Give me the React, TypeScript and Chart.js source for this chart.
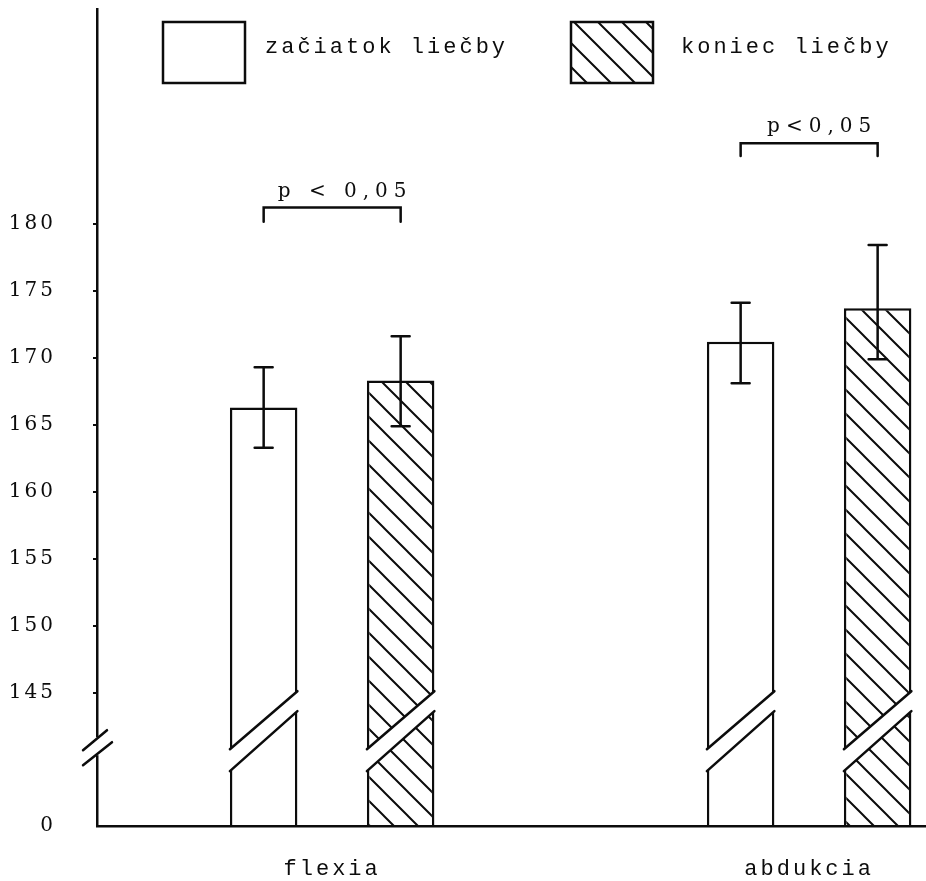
import React, { useEffect, useRef } from 'react';
import { Chart, registerables } from 'chart.js';

Chart.register(...registerables);

// ---------- data ----------
const groups = ['flexia', 'abdukcia'];
const groupPositions = [1, 2];
const seriesNames = ['začiatok liečby', 'koniec liečby'];
const startMeans = [166.3, 171.2];
const endMeans = [168.3, 173.7];
const startErrLow = [163.3, 168.1];
const startErrHigh = [169.3, 174.1];
const endErrLow = [164.9, 169.9];
const endErrHigh = [171.6, 178.4];
const yTickValues = [145, 150, 155, 160, 165, 170, 175, 180];
const zeroLabel = '0';
const ZERO_POS = 135.1; // where "0" sits on the broken axis
const Y_MAX = 196.0;
const pLabels = ['p < 0,05', 'p<0,05'];
const pBracketTop = [181.2, 186.0];
const pBracketLeg = [180.15, 185.05];

const INK = '#0c0c0c';

function makeHatch(): CanvasPattern | string {
  const T = 24;
  const c = document.createElement('canvas');
  c.width = T;
  c.height = T;
  const g = c.getContext('2d');
  if (!g) return '#fff';
  g.fillStyle = '#ffffff';
  g.fillRect(0, 0, T, T);
  g.strokeStyle = INK;
  g.lineWidth = 2;
  g.beginPath();
  g.moveTo(-2, -2); g.lineTo(T + 2, T + 2);
  g.moveTo(T - 2, -2); g.lineTo(T + 2, 2);
  g.moveTo(-2, T - 2); g.lineTo(2, T + 2);
  g.stroke();
  return g.createPattern(c, 'repeat') || '#fff';
}

export default function App() {
  const ref = useRef<HTMLCanvasElement | null>(null);

  useEffect(() => {
    if (!ref.current) return;
    const hatch = makeHatch();
    const errLow = [startErrLow, endErrLow];
    const errHigh = [startErrHigh, endErrHigh];

    const decor = {
      id: 'decor',
      beforeDraw(chart: any) {
        chart.ctx.letterSpacing = '3px';
      },
      afterDatasetsDraw(chart: any) {
        const ctx = chart.ctx as CanvasRenderingContext2D;
        const ys = chart.scales.y;
        const p145 = ys.getPixelForValue(yTickValues[0]);
        ctx.save();
        ctx.strokeStyle = INK;
        ctx.lineWidth = 2.5;
        ctx.lineCap = 'round';

        // bar breaks
        chart.data.datasets.forEach((_ds: any, di: number) => {
          chart.getDatasetMeta(di).data.forEach((bar: any) => {
            const { x: cx, width } = bar.getProps(['x', 'width'], true);
            const l = cx - width / 2;
            const r = cx + width / 2;
            const uL = p145 + 56, uR = p145 - 2, lL = p145 + 78, lR = p145 + 18;
            const su = (uR - uL) / (r - l);
            const sl = (lR - lL) / (r - l);
            const ext = 3;
            ctx.fillStyle = '#ffffff';
            ctx.beginPath();
            ctx.moveTo(l - ext, uL - su * ext);
            ctx.lineTo(r + ext, uR + su * ext);
            ctx.lineTo(r + ext, lR + sl * ext);
            ctx.lineTo(l - ext, lL - sl * ext);
            ctx.closePath();
            ctx.fill();
            ctx.beginPath();
            ctx.moveTo(l, uL); ctx.lineTo(r, uR);
            ctx.moveTo(l, lL); ctx.lineTo(r, lR);
            ctx.stroke();
          });
        });

        // error bars
        chart.data.datasets.forEach((_ds: any, di: number) => {
          chart.getDatasetMeta(di).data.forEach((bar: any, j: number) => {
            const cx = bar.x;
            const yh = ys.getPixelForValue(errHigh[di][j]);
            const yl = ys.getPixelForValue(errLow[di][j]);
            ctx.beginPath();
            ctx.moveTo(cx, yh); ctx.lineTo(cx, yl);
            ctx.moveTo(cx - 9, yh); ctx.lineTo(cx + 9, yh);
            ctx.moveTo(cx - 9, yl); ctx.lineTo(cx + 9, yl);
            ctx.stroke();
          });
        });

        // significance brackets
        const m0 = chart.getDatasetMeta(0).data;
        const m1 = chart.getDatasetMeta(1).data;
        groups.forEach((_g, j) => {
          const xl = m0[j].x;
          const xr = m1[j].x;
          const top = ys.getPixelForValue(pBracketTop[j]);
          const leg = ys.getPixelForValue(pBracketLeg[j]);
          ctx.beginPath();
          ctx.moveTo(xl, leg); ctx.lineTo(xl, top); ctx.lineTo(xr, top); ctx.lineTo(xr, leg);
          ctx.stroke();
          ctx.save();
          (ctx as any).letterSpacing = '6px';
          ctx.font = '20px "DejaVu Serif"';
          ctx.fillStyle = INK;
          ctx.textAlign = 'center';
          ctx.textBaseline = 'alphabetic';
          ctx.fillText(pLabels[j], (xl + xr) / 2 + 13, top - 11);
          ctx.restore();
        });

        // y-axis break
        const ax = chart.chartArea.left;
        ctx.fillStyle = '#ffffff';
        ctx.fillRect(ax - 4, p145 + 44, 8, 18);
        ctx.lineWidth = 2.5;
        ctx.beginPath();
        ctx.moveTo(ax - 14, p145 + 57); ctx.lineTo(ax + 10, p145 + 37);
        ctx.moveTo(ax - 14, p145 + 72); ctx.lineTo(ax + 15, p145 + 49);
        ctx.stroke();
        ctx.restore();
      },
      afterDraw(chart: any) {
        const ctx = chart.ctx as CanvasRenderingContext2D;
        ctx.save();
        ctx.strokeStyle = INK;
        ctx.lineWidth = 2.5;
        const boxes = [
          { x: 163, fill: '#ffffff' as any, tx: 265 },
          { x: 571, fill: hatch as any, tx: 681 },
        ];
        boxes.forEach((b, i) => {
          ctx.fillStyle = b.fill;
          ctx.fillRect(b.x, 22, 82, 61);
          ctx.strokeRect(b.x, 22, 82, 61);
          ctx.fillStyle = INK;
          (ctx as any).letterSpacing = '3px';
          ctx.font = '22px "Liberation Mono"';
          ctx.textAlign = 'left';
          ctx.textBaseline = 'alphabetic';
          ctx.fillText(seriesNames[i], b.tx, 53);
        });
        ctx.restore();
      },
    };

    const chart = new Chart(ref.current, {
      type: 'bar',
      data: {
        datasets: [
          {
            label: seriesNames[0],
            data: groupPositions.map((x, i) => ({ x, y: startMeans[i] })),
            backgroundColor: '#ffffff',
            borderColor: INK,
            borderWidth: 2.5,
            base: ZERO_POS,
          } as any,
          {
            label: seriesNames[1],
            data: groupPositions.map((x, i) => ({ x, y: endMeans[i] })),
            backgroundColor: hatch,
            borderColor: INK,
            borderWidth: 2.5,
            base: ZERO_POS,
          } as any,
        ],
      },
      options: {
        animation: false,
        responsive: true,
        maintainAspectRatio: false,
        categoryPercentage: 0.5744,
        barPercentage: 0.4927,
        layout: { padding: { top: 9, right: 0, left: 0, bottom: 0 } },
        plugins: { legend: { display: false }, tooltip: { enabled: false } },
        scales: {
          x: {
            type: 'linear',
            min: 0.507,
            max: 2.245,
            offset: false,
            z: 1,
            grid: { display: false, drawTicks: false },
            border: { display: true, color: INK, width: 2.5 },
            afterBuildTicks: (s: any) => { s.ticks = groupPositions.map((v) => ({ value: v })); },
            afterFit: (s: any) => { s.height = 55; s.paddingLeft = 0; s.paddingRight = 0; },
            ticks: {
              autoSkip: false,
              maxRotation: 0,
              padding: 30,
              color: INK,
              font: { family: 'Liberation Mono', size: 22 },
              callback: (v: any) => {
                const k = groupPositions.indexOf(Number(v));
                return k >= 0 ? groups[k] : '';
              },
            },
          },
          y: {
            type: 'linear',
            min: ZERO_POS,
            max: Y_MAX,
            grid: {
              display: true,
              drawOnChartArea: false,
              drawTicks: true,
              tickLength: 4,
              lineWidth: 2,
              color: (c: any) => (c.tick && c.tick.value === ZERO_POS ? 'rgba(0,0,0,0)' : INK),
            },
            border: { display: true, color: INK, width: 2.5 },
            afterBuildTicks: (s: any) => {
              s.ticks = [ZERO_POS, ...yTickValues].map((v) => ({ value: v }));
            },
            afterFit: (s: any) => { s.width = 97; s.paddingTop = 0; s.paddingBottom = 0; },
            ticks: {
              autoSkip: false,
              padding: 37,
              color: INK,
              font: { family: 'DejaVu Serif', size: 20 },
              callback: (v: any) => (Number(v) === ZERO_POS ? zeroLabel : String(v)),
            },
          },
        },
      } as any,
      plugins: [decor],
    });
    return () => chart.destroy();
  }, []);

  return (
    <div style={{ position: 'fixed', left: 0, top: 0, width: 926, height: 881, background: '#fff' }}>
      <canvas ref={ref} />
    </div>
  );
}
